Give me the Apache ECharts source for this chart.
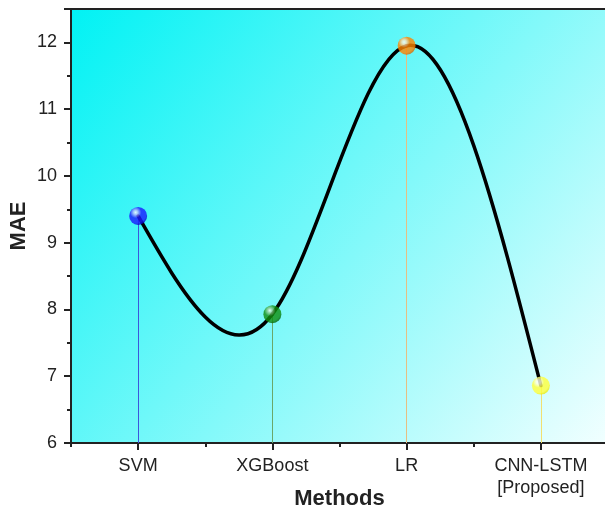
<!DOCTYPE html>
<html>
<head>
<meta charset="utf-8">
<script src="https://cdn.jsdelivr.net/npm/echarts@6/dist/echarts.min.js"></script>
<style>html,body{margin:0;padding:0;background:#fff}#c{width:605px;height:508px}</style>
</head>
<body>
<div id="c"></div>
<script>
var categories = ['SVM', 'XGBoost', 'LR', 'CNN-LSTM\n[Proposed]'];
var maeValues = [9.40, 7.93, 11.95, 6.86];
var yTicks = [6, 7, 8, 9, 10, 11, 12];

var markerColors = [
  ['#b8b8ff', '#1a1aff', '#0000b0'],
  ['#98d098', '#0f8f0f', '#005800'],
  ['#ffe0b8', '#ff8400', '#d06000'],
  ['#ffffe0', '#ffff3a', '#e6e600']
];
var dropColors = ['#3c55dc', '#6aa86a', '#e6bf82', '#f2e070'];

// natural cubic spline second derivatives (unit spacing in category index)
function splineM(y) {
  var n = y.length, M = new Array(n).fill(0);
  if (n < 3) return M;
  var m = n - 2, a = [], b = [], c = [], d = [];
  for (var i = 1; i <= m; i++) {
    a.push(1); b.push(4); c.push(1);
    d.push(6 * (y[i - 1] - 2 * y[i] + y[i + 1]));
  }
  for (var k = 1; k < m; k++) {
    var w = a[k] / b[k - 1];
    b[k] -= w * c[k - 1];
    d[k] -= w * d[k - 1];
  }
  var x = new Array(m);
  x[m - 1] = d[m - 1] / b[m - 1];
  for (var k2 = m - 2; k2 >= 0; k2--) x[k2] = (d[k2] - c[k2] * x[k2 + 1]) / b[k2];
  for (var j = 0; j < m; j++) M[j + 1] = x[j];
  return M;
}

var chart = echarts.init(document.getElementById('c'), null, {renderer: 'canvas'});

var pointData = maeValues.map(function (v, i) {
  var c = markerColors[i];
  return {
    value: [i, v],
    itemStyle: {
      color: {
        type: 'radial', x: 0.36, y: 0.3, r: 0.75,
        colorStops: [
          {offset: 0, color: '#ffffff'},
          {offset: 0.16, color: c[0]},
          {offset: 0.42, color: c[1]},
          {offset: 0.8, color: c[1]},
          {offset: 1, color: c[2]}
        ]
      },
      borderWidth: 0
    }
  };
});

var dropLines = maeValues.map(function (v, i) {
  return [
    {coord: [i, yTicks[0]], lineStyle: {color: dropColors[i], width: 1, type: 'solid'}},
    {coord: [i, v]}
  ];
});

function renderCurve(params, api) {
  var y = maeValues;
  var M = splineM(y);
  var children = [];
  for (var i = 0; i < y.length - 1; i++) {
    var p0 = api.coord([i, y[i]]);
    var p1 = api.coord([i + 1, y[i + 1]]);
    var dy = y[i + 1] - y[i];
    var dL = dy - (2 * M[i] + M[i + 1]) / 6;
    var dR = dy + (M[i] + 2 * M[i + 1]) / 6;
    var c1y = api.coord([i, y[i] + dL / 3])[1];
    var c2y = api.coord([i, y[i + 1] - dR / 3])[1];
    children.push({
      type: 'bezierCurve',
      shape: {
        x1: p0[0], y1: p0[1],
        cpx1: p0[0] + (p1[0] - p0[0]) / 3, cpy1: c1y,
        cpx2: p0[0] + 2 * (p1[0] - p0[0]) / 3, cpy2: c2y,
        x2: p1[0], y2: p1[1]
      },
      style: {stroke: '#000', lineWidth: 3.5, fill: null, lineCap: 'round'}
    });
  }
  return {type: 'group', children: children};
}

chart.setOption({
  animation: false,
  grid: {
    left: 71, top: 9, width: 537, height: 434,
    outerBoundsMode: 'none',
    containLabel: false,
    show: true,
    borderColor: '#222', borderWidth: 2,
    backgroundColor: {
      type: 'linear', x: 0, y: 0, x2: 1, y2: 1,
      colorStops: [
        {offset: 0, color: '#00f2f4'},
        {offset: 1, color: '#f2ffff'}
      ]
    }
  },
  xAxis: [{
    type: 'category',
    data: categories,
    boundaryGap: true,
    name: 'Methods',
    nameLocation: 'middle',
    nameGap: 45,
    nameMoveOverlap: false,
    nameTextStyle: {fontFamily: 'Liberation Sans', fontWeight: 'bold', fontSize: 22, color: '#222'},
    axisLine: {show: true, lineStyle: {color: '#222', width: 2}},
    axisTick: {show: true, alignWithLabel: true, length: 7, lineStyle: {color: '#222', width: 2}},
    axisLabel: {fontFamily: 'Liberation Sans', fontSize: 18, color: '#222', margin: 12, lineHeight: 22, interval: 0},
    splitLine: {show: false}
  }, {
    type: 'category',
    data: categories,
    position: 'bottom',
    boundaryGap: true,
    axisLine: {show: false},
    axisTick: {show: true, alignWithLabel: false, length: 4, lineStyle: {color: '#222', width: 2}},
    axisLabel: {show: false},
    splitLine: {show: false}
  }],
  yAxis: {
    type: 'value',
    min: 6, max: 12.5, interval: 1,
    name: 'MAE',
    nameLocation: 'middle',
    nameGap: 41,
    nameRotate: 90,
    nameMoveOverlap: false,
    nameTextStyle: {fontFamily: 'Liberation Sans', fontWeight: 'bold', fontSize: 22, color: '#222'},
    axisLine: {show: true, lineStyle: {color: '#222', width: 2}},
    axisTick: {show: true, length: 7, lineStyle: {color: '#222', width: 2}},
    minorTick: {show: true, splitNumber: 2, length: 4, lineStyle: {color: '#222', width: 2}},
    axisLabel: {
      fontFamily: 'Liberation Sans', fontSize: 18, color: '#222', margin: 14,
      formatter: function (v) { return yTicks.indexOf(v) >= 0 ? String(v) : ''; }
    },
    splitLine: {show: false}
  },
  series: [{
    type: 'custom',
    coordinateSystem: 'cartesian2d',
    data: [[0, maeValues[0]]],
    encode: {x: 0, y: 1},
    renderItem: renderCurve,
    silent: true,
    z: 3
  }, {
    type: 'scatter',
    data: pointData,
    symbol: 'circle',
    symbolSize: 18,
    z: 5,
    markLine: {
      silent: true,
      symbol: ['none', 'none'],
      label: {show: false},
      animation: false,
      z: 1,
      data: dropLines
    }
  }]
});
</script>
</body>
</html>
